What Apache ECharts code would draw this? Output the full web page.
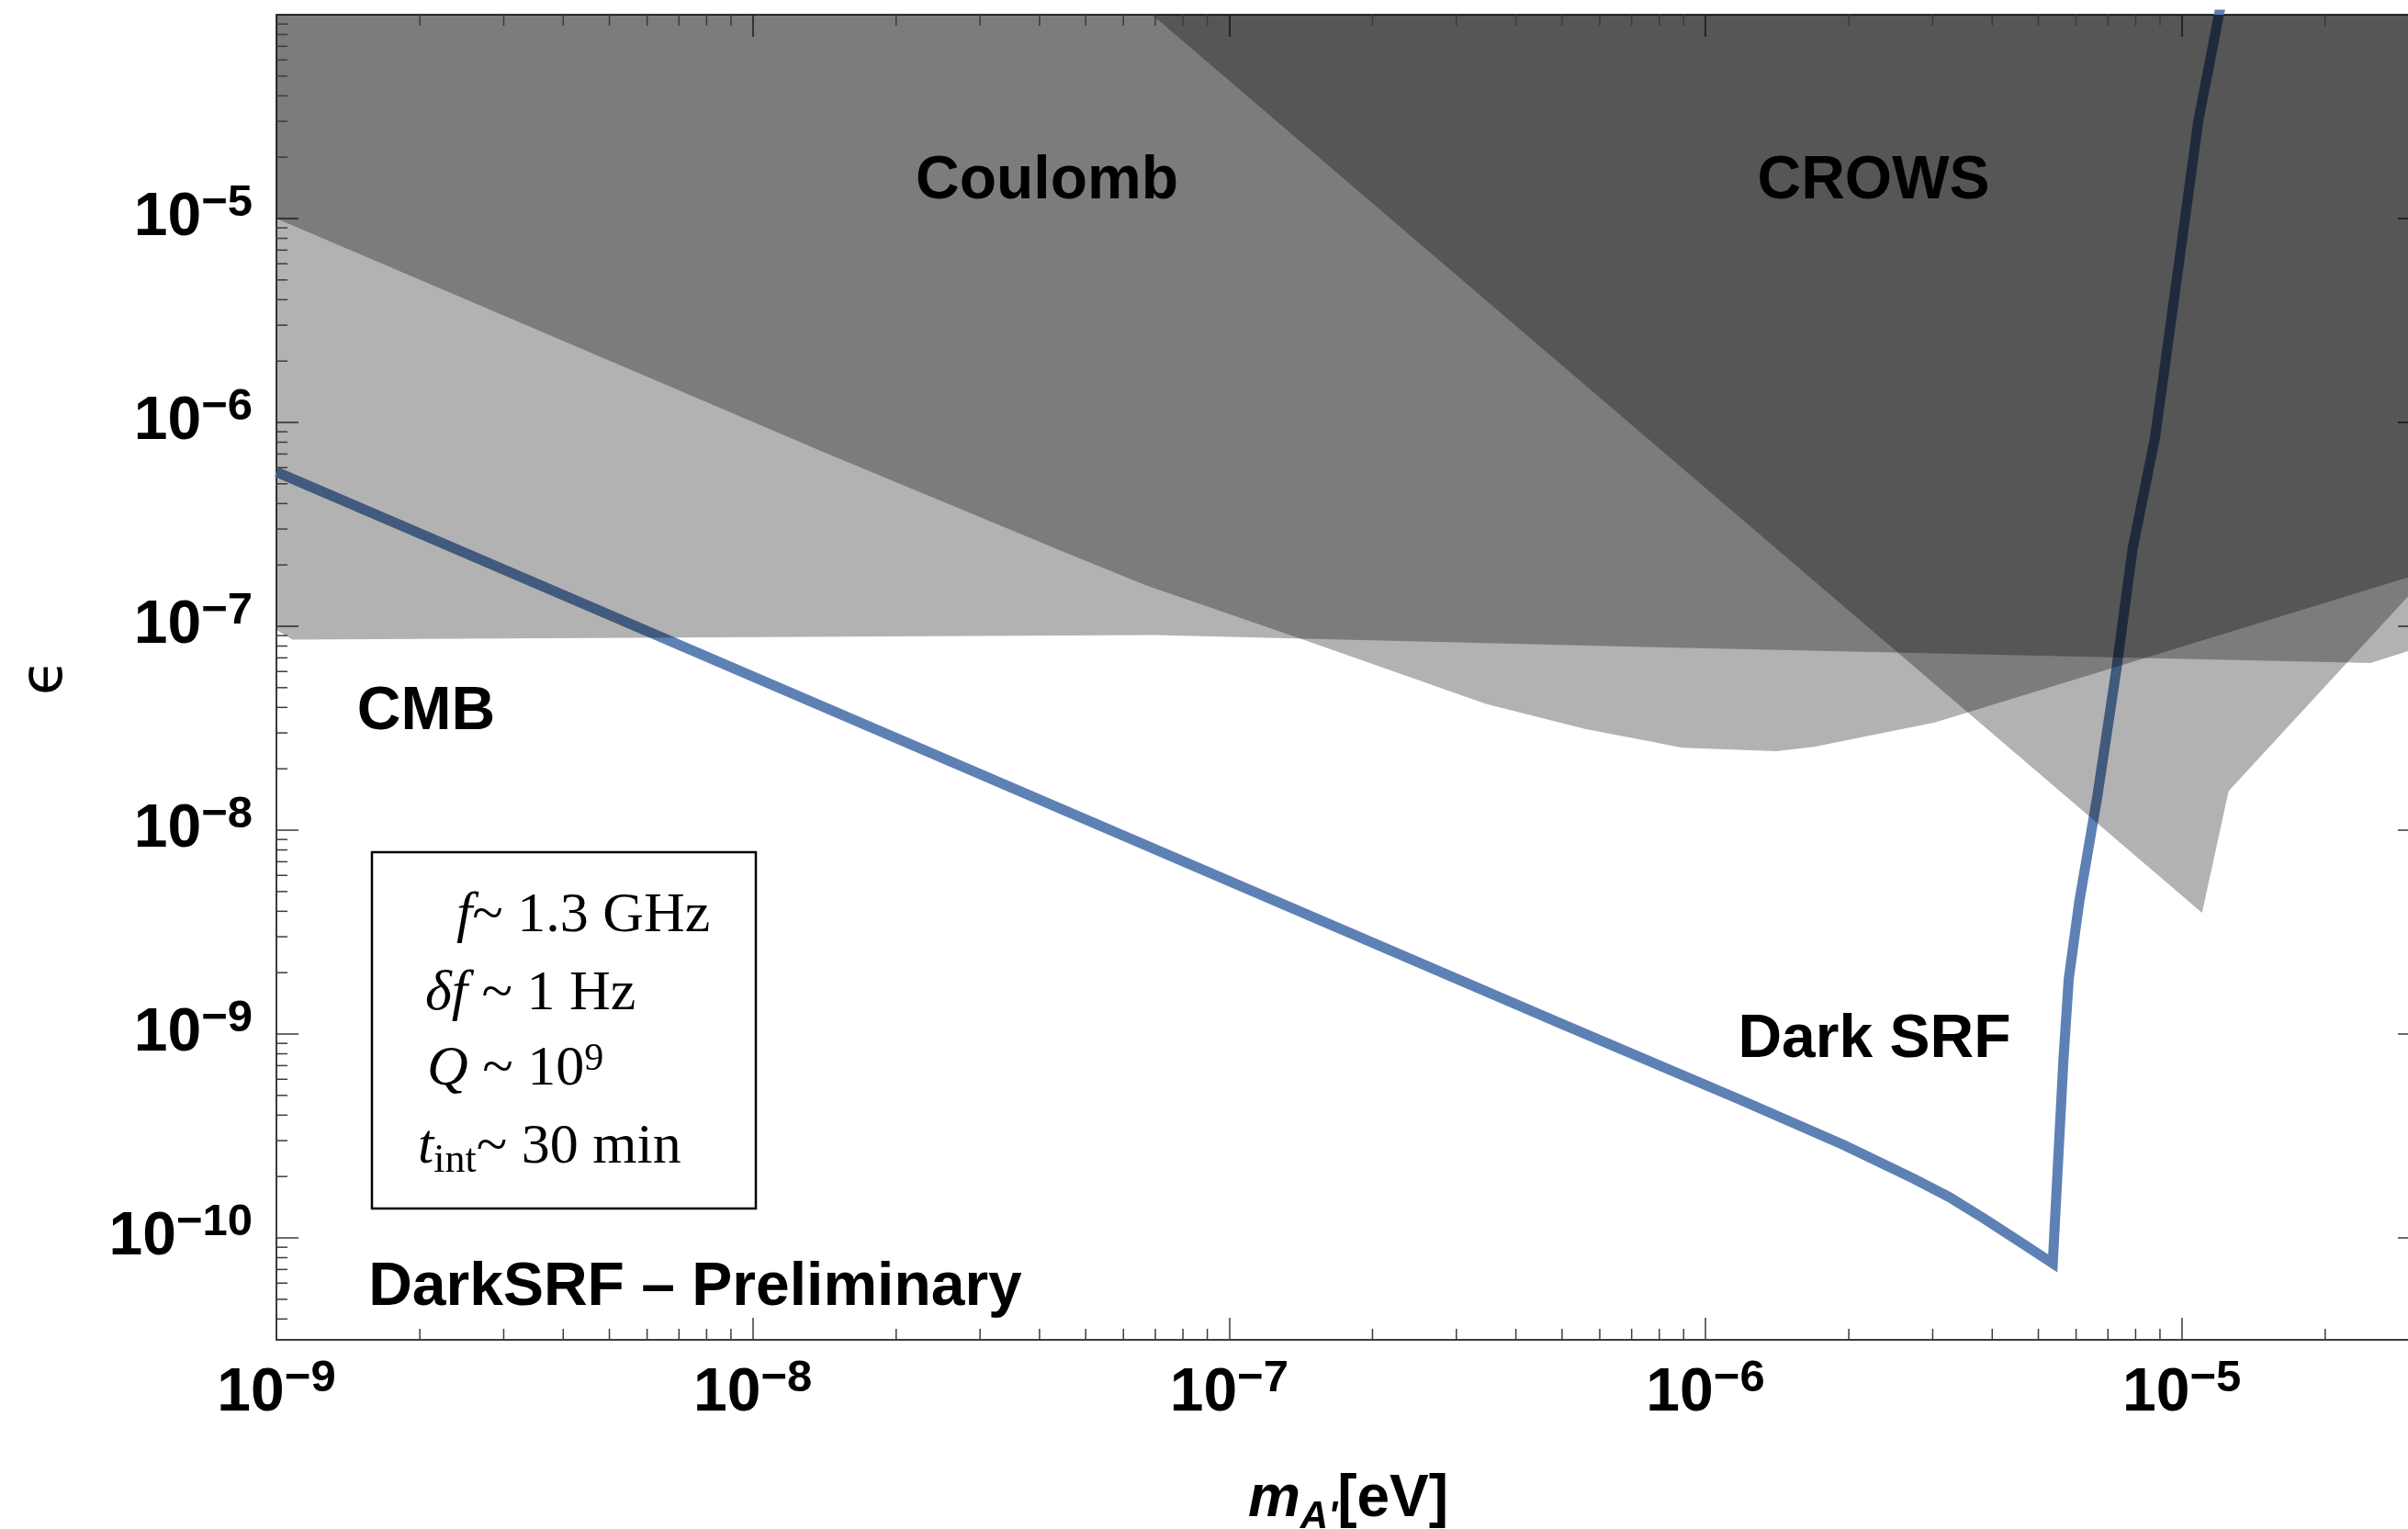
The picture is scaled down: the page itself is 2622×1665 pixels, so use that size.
<!DOCTYPE html>
<html>
<head>
<meta charset="utf-8">
<script src="https://cdn.jsdelivr.net/npm/echarts@6/dist/echarts.min.js"></script>
<style>
html,body{margin:0;padding:0;background:#fff;}
#chart{width:2622px;height:1665px;}
</style>
</head>
<body>
<div id="chart"></div>
<script>
// ---------------- data (m_A' in eV, epsilon) ----------------
const X_MIN = 1e-9, X_MAX = Math.pow(10, -4.5);
const Y_MIN = Math.pow(10, -10.5), Y_MAX = 1e-4;
const X_DECADES = [-9, -8, -7, -6, -5];
const Y_DECADES = [-10, -9, -8, -7, -6, -5];
const MINOR_MULT = [2, 3, 4, 5, 6, 7, 8, 9];

// lower boundaries of the excluded regions (filled upward)
const cmb = [
  [1e-9, 9.6e-8], [1.08e-9, 8.6e-8], [6.95e-8, 9.05e-8],
  [7.8e-7, 7.9e-8], [2.49e-5, 6.6e-8], [3.162e-5, 7.9e-8]
];
const coulomb = [
  [1e-9, 1e-5], [1.43e-8, 7.05e-7], [4.45e-8, 2.34e-7], [6.68e-8, 1.59e-7],
  [1.417e-7, 8.68e-8], [3.46e-7, 4.16e-8], [5.61e-7, 3.13e-8], [7.77e-7, 2.71e-8],
  [8.93e-7, 2.54e-8], [1.41e-6, 2.44e-8], [1.69e-6, 2.56e-8], [3.03e-6, 3.37e-8],
  [3.162e-5, 1.81e-7]
];
const crows = [
  [6.6e-8, 1.09e-4], [1.103e-5, 3.93e-9], [1.254e-5, 1.555e-8], [3.162e-5, 1.62e-7]
];
// Dark SRF projected sensitivity
const darkSRF = [
  [1e-9, 5.72e-7], [5.0e-7, 1.12e-9], [1.17e-6, 4.81e-10], [1.95e-6, 2.86e-10],
  [2.74e-6, 1.95e-10], [3.25e-6, 1.585e-10], [3.85e-6, 1.243e-10], [4.56e-6, 9.6e-11],
  [5.36e-6, 7.5e-11], [5.64e-6, 7.29e-10], [5.79e-6, 1.86e-9], [6.09e-6, 4.43e-9],
  [6.65e-6, 1.47e-8], [7.29e-6, 6.15e-8], [7.88e-6, 2.38e-7], [8.79e-6, 8.46e-7],
  [9.65e-6, 4.15e-6], [1.084e-5, 3.04e-5], [1.205e-5, 1.085e-4]
];

// ---------------- styling ----------------
const SANS = "'Liberation Sans', Arial, Helvetica, sans-serif";
const SERIF = "'Liberation Serif', 'Times New Roman', serif";
const FRAME = '#3c3c3c';
const MAJOR_LEN = 24, MINOR_LEN = 12;
const SHADE = 'rgba(0,0,0,0.3)';

// minor tick positions (axis decoration)
const xMinor = [], yMinor = [];
for (let d = -9; d <= -5; d++) MINOR_MULT.forEach(k => { const v = k * Math.pow(10, d); if (v < X_MAX) xMinor.push([v, Y_MIN]); });
for (let d = -11; d <= -5; d++) MINOR_MULT.forEach(k => { const v = k * Math.pow(10, d); if (v > Y_MIN && v < Y_MAX) yMinor.push([X_MIN, v]); });

function powLabel(decades) {
  return function (v) {
    const e = Math.log10(v), k = Math.round(e);
    if (Math.abs(e - k) > 1e-6 || decades.indexOf(k) < 0) return '';
    return '{b|10}{s|\u2212' + Math.abs(k) + '}';
  };
}
const labelRich = {
  b: { fontFamily: SANS, fontWeight: 'bold', fontSize: 66, lineHeight: 82, verticalAlign: 'middle', color: '#000' },
  s: { fontFamily: SANS, fontWeight: 'bold', fontSize: 49, lineHeight: 44, verticalAlign: 'top', color: '#000' }
};

function baseAxis(extra) {
  return Object.assign({
    type: 'log', logBase: 10,
    axisLine: { show: true, onZero: false, lineStyle: { color: FRAME, width: 2 } },
    axisTick: { show: true, inside: true, length: MAJOR_LEN, lineStyle: { color: FRAME, width: 1.5 } },
    minorTick: { show: false },
    splitLine: { show: false },
    minorSplitLine: { show: false }
  }, extra);
}

const tickStyle = { stroke: FRAME, lineWidth: 1.5 };
const serifRich = function (extra) {
  const base = {
    i: { fontFamily: SERIF, fontStyle: 'italic', fontSize: 62, lineHeight: 64, verticalAlign: 'middle', fill: '#000', color: '#000' },
    r: { fontFamily: SERIF, fontSize: 62, lineHeight: 64, verticalAlign: 'middle', fill: '#000', color: '#000' }
  };
  return Object.assign(base, extra || {});
};
function boxLine(x, y, text, rich) {
  return { type: 'text', x: x, y: y, z: 101, silent: true,
    style: { text: text, align: 'left', verticalAlign: 'middle', textAlign: 'left', textVerticalAlign: 'middle', rich: rich } };
}
function regionLabel(x, y, text) {
  return { type: 'text', x: x, y: y, z: 100, silent: true,
    style: { text: text, font: 'bold 66px ' + SANS, fill: '#000', align: 'center', verticalAlign: 'middle', textAlign: 'center', textVerticalAlign: 'middle' } };
}

const chart = echarts.init(document.getElementById('chart'), null, { renderer: 'canvas' });
chart.setOption({
  animation: false,
  backgroundColor: '#fff',
  grid: { left: 301, top: 16, width: 2334, height: 1443, containLabel: false, outerBoundsMode: 'none' },
  xAxis: [
    baseAxis({
      position: 'bottom', min: X_MIN, max: X_MAX,
      axisLabel: { show: true, margin: 18, formatter: powLabel(X_DECADES), rich: labelRich },
      name: "{m|m}{sub|A'}{r|[eV]}",
      nameLocation: 'middle', nameGap: 134,
      nameTextStyle: {
        rich: {
          m: { fontFamily: SANS, fontWeight: 'bold', fontStyle: 'italic', fontSize: 64, lineHeight: 80, verticalAlign: 'middle', color: '#000' },
          sub: { fontFamily: SANS, fontWeight: 'bold', fontStyle: 'italic', fontSize: 42, lineHeight: 52, verticalAlign: 'bottom', color: '#000' },
          r: { fontFamily: SANS, fontWeight: 'bold', fontSize: 64, lineHeight: 80, verticalAlign: 'middle', color: '#000' }
        }
      }
    }),
    baseAxis({ position: 'top', min: X_MIN, max: X_MAX, axisLabel: { show: false } })
  ],
  yAxis: [
    baseAxis({
      position: 'left', min: Y_MIN, max: Y_MAX,
      axisLabel: { show: true, margin: 26, formatter: powLabel(Y_DECADES), rich: labelRich },
      name: '\u03F5', nameLocation: 'middle', nameGap: 219, nameRotate: 90,
      nameTextStyle: { fontFamily: "'DejaVu Sans', sans-serif", fontSize: 64, color: '#000' }
    }),
    baseAxis({ position: 'right', min: Y_MIN, max: Y_MAX, axisLabel: { show: false } })
  ],
  series: [
    {
      name: 'Dark SRF', type: 'line', data: darkSRF, symbol: 'none', showSymbol: false, z: 2,
      lineStyle: { color: '#5e81b5', width: 11, join: 'miter', cap: 'butt' }, silent: true
    },
    {
      name: 'CMB', type: 'line', data: cmb, symbol: 'none', z: 3, silent: true,
      lineStyle: { width: 0, opacity: 0 }, areaStyle: { color: SHADE, origin: 'end', opacity: 1 }
    },
    {
      name: 'Coulomb', type: 'line', data: coulomb, symbol: 'none', z: 3, silent: true,
      lineStyle: { width: 0, opacity: 0 }, areaStyle: { color: SHADE, origin: 'end', opacity: 1 }
    },
    {
      name: 'CROWS', type: 'line', data: crows, symbol: 'none', z: 3, silent: true,
      lineStyle: { width: 0, opacity: 0 }, areaStyle: { color: SHADE, origin: 'end', opacity: 1 }
    },
    {
      name: 'xMinor', type: 'custom', data: xMinor, z: 5, silent: true,
      encode: { x: 0, y: 1 },
      renderItem: function (params, api) {
        const v = api.value(0);
        const b = api.coord([v, Y_MIN]), t = api.coord([v, Y_MAX]);
        return { type: 'group', children: [
          { type: 'line', shape: { x1: b[0], y1: b[1], x2: b[0], y2: b[1] - MINOR_LEN }, style: tickStyle },
          { type: 'line', shape: { x1: t[0], y1: t[1], x2: t[0], y2: t[1] + MINOR_LEN }, style: tickStyle }
        ] };
      }
    },
    {
      name: 'yMinor', type: 'custom', data: yMinor, z: 5, silent: true,
      encode: { x: 0, y: 1 },
      renderItem: function (params, api) {
        const v = api.value(1);
        const l = api.coord([X_MIN, v]), r = api.coord([X_MAX, v]);
        return { type: 'group', children: [
          { type: 'line', shape: { x1: l[0], y1: l[1], x2: l[0] + MINOR_LEN, y2: l[1] }, style: tickStyle },
          { type: 'line', shape: { x1: r[0], y1: r[1], x2: r[0] - MINOR_LEN, y2: r[1] }, style: tickStyle }
        ] };
      }
    }
  ],
  graphic: {
    elements: [
      regionLabel(1140, 198, 'Coulomb'),
      regionLabel(2040, 198, 'CROWS'),
      regionLabel(464, 776, 'CMB'),
      regionLabel(2041, 1133, 'Dark SRF'),
      regionLabel(757, 1403, 'DarkSRF \u2013 Preliminary'),
      { type: 'rect', z: 100, silent: true,
        shape: { x: 405, y: 928, width: 418, height: 388 },
        style: { fill: '#fff', stroke: '#000', lineWidth: 2.5 } },
      boxLine(497, 998, '{i|f}{r|~ 1.3 GHz}', serifRich()),
      boxLine(463, 1083, '{i|\u03B4f}{r| ~ 1 Hz}', serifRich()),
      boxLine(465, 1165, '{i|Q}{r| ~ 10}{sup|9}', serifRich({
        sup: { fontFamily: SERIF, fontSize: 42, lineHeight: 42, verticalAlign: 'top', fill: '#000', color: '#000' }
      })),
      boxLine(455, 1250, '{i|t}{sub|int}{r|~ 30 min}', serifRich({
        i: { fontFamily: SERIF, fontStyle: 'italic', fontSize: 62, lineHeight: 72, verticalAlign: 'middle', fill: '#000', color: '#000' },
        r: { fontFamily: SERIF, fontSize: 62, lineHeight: 72, verticalAlign: 'middle', fill: '#000', color: '#000' },
        sub: { fontFamily: SERIF, fontSize: 44, lineHeight: 38, verticalAlign: 'bottom', fill: '#000', color: '#000' }
      }))
    ]
  }
});
</script>
</body>
</html>
